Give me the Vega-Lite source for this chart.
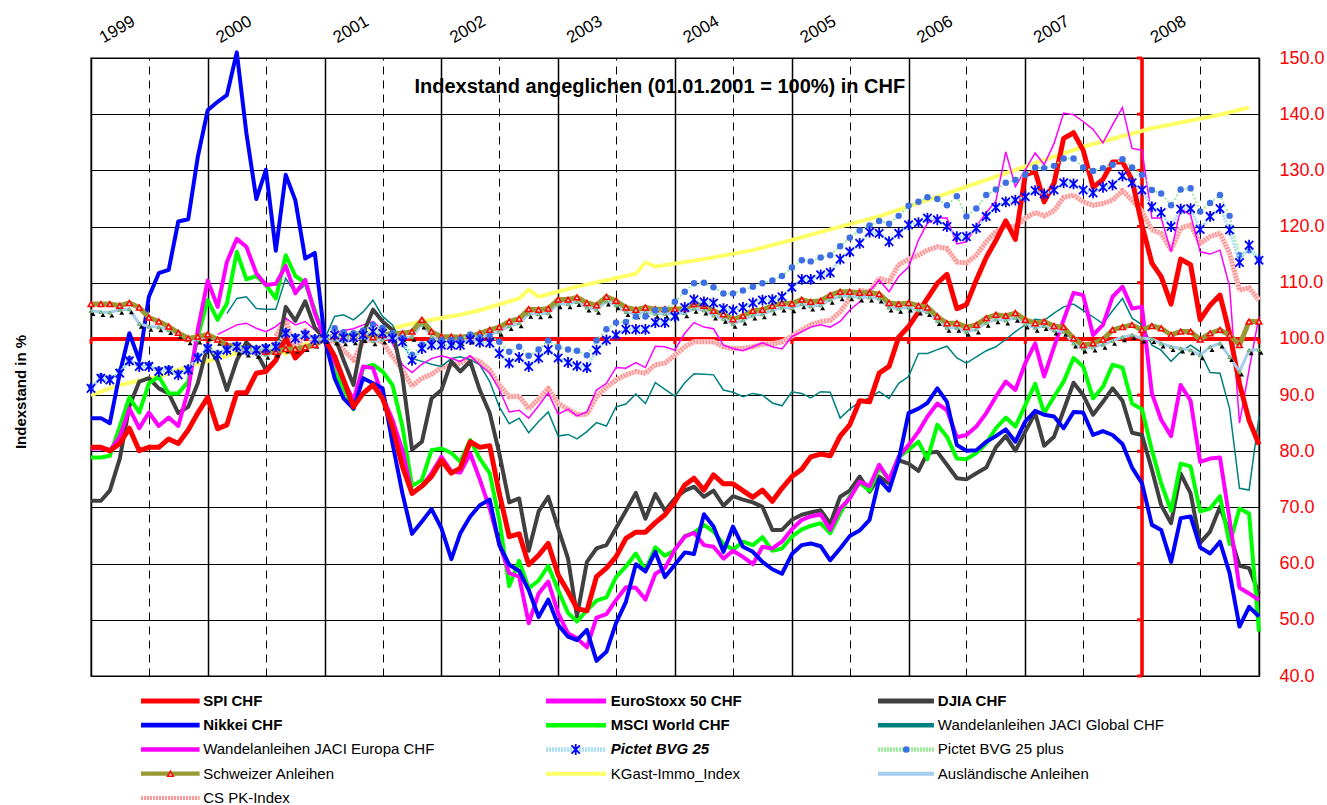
{
"$schema": "https://vega.github.io/schema/vega-lite/v6.json",
"background": "#ffffff",
"padding": {"left": 13, "top": 10, "right": 4, "bottom": 0},
"spacing": 0,
"datasets": {
"m": [
{"d":"1999-01-01","spi":80.7,"nik":85.9,"dj":71.2,"ms":78.9,"es":80.5,"b25":91.2,"bp":91.5,"ch":106.2,"au":105.0},
{"d":"1999-02-01","spi":80.7,"nik":85.9,"dj":71.2,"ms":78.9,"es":80.5,"b25":93.0,"bp":93.3,"ch":106.2,"au":104.8},
{"d":"1999-03-01","spi":80.1,"nik":85.0,"dj":73.0,"ms":79.2,"es":80.1,"b25":92.7,"bp":93.0,"ch":106.2,"au":104.7},
{"d":"1999-04-01","spi":81.4,"nik":93.9,"dj":78.7,"ms":84.4,"es":82.6,"b25":93.9,"bp":94.2,"ch":105.9,"au":105.2},
{"d":"1999-05-01","spi":84.1,"nik":101.0,"dj":88.0,"ms":89.6,"es":87.6,"b25":96.1,"bp":96.4,"ch":106.4,"au":105.3},
{"d":"1999-06-01","spi":80.1,"nik":96.2,"dj":92.4,"ms":86.9,"es":84.1,"b25":95.1,"bp":95.4,"ch":105.6,"au":102.7},
{"d":"1999-07-01","spi":80.7,"nik":107.5,"dj":93.0,"ms":92.1,"es":86.9,"b25":95.1,"bp":95.4,"ch":103.8,"au":102.2},
{"d":"1999-08-01","spi":80.7,"nik":111.7,"dj":91.2,"ms":93.3,"es":84.5,"b25":94.2,"bp":94.5,"ch":103.1,"au":102.1},
{"d":"1999-09-01","spi":82.2,"nik":112.3,"dj":90.3,"ms":90.3,"es":86.0,"b25":94.4,"bp":94.7,"ch":102.2,"au":101.6},
{"d":"1999-10-01","spi":81.4,"nik":120.9,"dj":86.8,"ms":90.3,"es":84.5,"b25":93.6,"bp":93.9,"ch":101.1,"au":100.9},
{"d":"1999-11-01","spi":83.8,"nik":121.3,"dj":87.9,"ms":92.4,"es":90.9,"b25":94.5,"bp":94.8,"ch":100.1,"au":99.8},
{"d":"1999-12-01","spi":86.8,"nik":132.4,"dj":92.1,"ms":100.4,"es":101.6,"b25":96.6,"bp":96.9,"ch":100.4,"au":99.9},
{"d":"2000-01-01","spi":89.6,"nik":140.7,"dj":98.9,"ms":106.9,"es":110.4,"b25":98.3,"bp":98.6,"ch":100.8,"au":100.5},
{"d":"2000-02-01","spi":84.0,"nik":142.2,"dj":96.0,"ms":103.4,"es":105.7,"je":100.8,"b25":97.1,"bp":97.4,"ch":99.9,"au":99.7},
{"d":"2000-03-01","spi":84.7,"nik":143.4,"dj":90.9,"ms":106.3,"es":113.7,"jg":104.5,"je":101.6,"b25":98.0,"bp":98.3,"ch":98.9,"au":98.6},
{"d":"2000-04-01","spi":90.4,"nik":151.0,"dj":96.2,"ms":115.5,"es":117.8,"jg":107.2,"je":102.5,"b25":98.6,"bp":98.9,"ch":98.6,"au":98.0},
{"d":"2000-05-01","spi":90.4,"nik":136.6,"dj":99.4,"ms":110.6,"es":116.4,"jg":107.5,"je":102.8,"b25":98.0,"bp":98.3,"ch":98.3,"au":97.6},
{"d":"2000-06-01","spi":93.9,"nik":124.9,"dj":97.6,"ms":111.2,"es":111.7,"jg":105.4,"je":101.9,"b25":98.0,"bp":98.3,"ch":98.0,"au":97.4},
{"d":"2000-07-01","spi":94.2,"nik":130.1,"dj":94.5,"ms":109.6,"es":109.6,"jg":105.3,"je":101.3,"b25":98.3,"bp":98.6,"ch":97.7,"au":97.2},
{"d":"2000-08-01","spi":96.2,"nik":115.7,"dj":96.2,"ms":107.2,"es":109.8,"jg":105.3,"je":102.2,"b25":98.6,"bp":98.9,"ch":97.7,"au":97.6,"cs":100.5},
{"d":"2000-09-01","spi":100.2,"nik":129.2,"dj":105.7,"ms":114.9,"es":113.0,"jg":110.8,"je":103.7,"b25":101.0,"bp":101.3,"ch":98.2,"au":98.3,"cs":103.5},
{"d":"2000-10-01","spi":96.6,"nik":124.7,"dj":103.2,"ms":111.2,"es":108.1,"jg":108.1,"je":102.5,"b25":100.1,"bp":100.4,"ch":98.2,"au":98.3,"cs":97.5},
{"d":"2000-11-01","spi":98.4,"nik":114.3,"dj":106.7,"ms":110.0,"es":110.5,"jg":109.6,"je":103.1,"b25":100.7,"bp":101.0,"ch":98.5,"au":98.6,"cs":101.5},
{"d":"2000-12-01","spi":99.2,"nik":115.3,"dj":102.0,"ms":105.1,"es":104.6,"jg":104.5,"je":101.6,"b25":99.9,"bp":100.2,"ch":98.9,"au":99.2,"cs":99.0},
{"d":"2001-01-01","spi":100,"nik":100,"dj":100,"ms":100,"es":100,"jg":100,"je":100,"b25":100,"bp":100,"ch":100,"au":100,"cs":100},
{"d":"2001-02-01","spi":96.9,"nik":93.0,"dj":100.4,"ms":94.2,"es":96.0,"jg":104.0,"je":101.0,"b25":100.7,"bp":101.9,"ch":100.5,"au":99.8,"cs":99.5},
{"d":"2001-03-01","spi":92.7,"nik":89.4,"dj":96.2,"ms":91.2,"es":92.5,"jg":104.3,"je":101.5,"b25":100.2,"bp":101.2,"ch":100.5,"au":99.6,"cs":98.0},
{"d":"2001-04-01","spi":87.9,"nik":87.6,"dj":91.8,"ms":87.5,"es":89.1,"jg":103.4,"je":101.8,"b25":100.2,"bp":101.0,"ch":100.5,"au":99.8,"cs":96.2},
{"d":"2001-05-01","spi":90.3,"nik":93.0,"dj":100.9,"ms":94.8,"es":95.1,"jg":104.8,"je":102.5,"b25":100.7,"bp":101.5,"ch":101.0,"au":100.2,"cs":99.5},
{"d":"2001-06-01","spi":91.8,"nik":92.1,"dj":105.2,"ms":95.4,"es":94.8,"jg":106.9,"je":103.1,"b25":101.3,"bp":102.5,"ch":100.3,"au":99.6,"cs":100.0},
{"d":"2001-07-01","spi":89.4,"nik":91.2,"dj":103.1,"ms":94.2,"es":89.7,"jg":104.0,"je":101.6,"b25":101.0,"bp":102.0,"ch":100.7,"au":99.9,"cs":99.5},
{"d":"2001-08-01","spi":84.4,"nik":81.4,"dj":101.6,"ms":91.8,"es":85.6,"jg":102.5,"je":99.2,"b25":100.1,"bp":101.0,"ch":101.0,"au":100.4,"cs":96.9},
{"d":"2001-09-01","spi":77.3,"nik":72.5,"dj":93.3,"ms":84.4,"es":80.2,"jg":99.0,"je":95.4,"b25":99.5,"bp":100.2,"ch":101.0,"au":100.2,"cs":94.5},
{"d":"2001-10-01","spi":72.5,"nik":65.3,"dj":80.3,"ms":73.8,"es":72.5,"jg":96.5,"je":94.0,"b25":96.2,"bp":97.2,"ch":101.3,"au":100.4,"cs":91.6},
{"d":"2001-11-01","spi":73.8,"nik":67.5,"dj":81.7,"ms":74.9,"es":73.8,"jg":96.0,"je":95.5,"b25":98.3,"bp":99.0,"ch":103.4,"au":102.6,"cs":93.0},
{"d":"2001-12-01","spi":75.5,"nik":69.7,"dj":89.4,"ms":80.2,"es":76.1,"jg":95.5,"je":96.5,"b25":98.9,"bp":99.6,"ch":101.3,"au":100.4,"cs":93.7},
{"d":"2002-01-01","spi":78.4,"nik":66.3,"dj":90.9,"ms":80.5,"es":79.0,"jg":95.1,"je":97.0,"b25":98.9,"bp":99.8,"ch":100.4,"au":99.6,"cs":94.9},
{"d":"2002-02-01","spi":76.1,"nik":60.8,"dj":96.0,"ms":79.7,"es":76.4,"jg":96.5,"je":96.5,"b25":98.9,"bp":99.8,"ch":100.4,"au":99.8,"cs":95.3},
{"d":"2002-03-01","spi":77.0,"nik":65.4,"dj":94.2,"ms":78.1,"es":76.2,"jg":96.8,"je":96.0,"b25":98.9,"bp":99.9,"ch":100.3,"au":99.6,"cs":95.7},
{"d":"2002-04-01","spi":81.7,"nik":68.4,"dj":96.0,"ms":82.0,"es":79.6,"jg":96.3,"je":97.0,"b25":99.9,"bp":100.8,"ch":100.5,"au":99.9,"cs":96.6},
{"d":"2002-05-01","spi":80.7,"nik":70.4,"dj":90.9,"ms":78.7,"es":75.0,"jg":95.4,"je":95.4,"b25":99.4,"bp":100.3,"ch":101.0,"au":100.3,"cs":96.0},
{"d":"2002-06-01","spi":81.0,"nik":71.4,"dj":86.8,"ms":76.1,"es":69.8,"jg":92.4,"je":93.9,"b25":99.3,"bp":100.5,"ch":101.6,"au":100.8,"cs":94.5},
{"d":"2002-07-01","spi":72.5,"nik":63.3,"dj":79.6,"ms":67.8,"es":63.6,"jg":87.9,"je":91.0,"b25":97.4,"bp":99.5,"ch":102.1,"au":101.3,"cs":91.8},
{"d":"2002-08-01","spi":64.8,"nik":59.8,"dj":70.9,"ms":56.0,"es":58.3,"jg":84.9,"je":87.0,"b25":95.7,"bp":97.7,"ch":103.1,"au":102.3,"cs":89.7},
{"d":"2002-09-01","spi":65.3,"nik":58.7,"dj":71.6,"ms":60.5,"es":57.7,"jg":85.9,"je":87.3,"b25":96.7,"bp":98.6,"ch":103.6,"au":102.8,"cs":89.8},
{"d":"2002-10-01","spi":59.8,"nik":55.3,"dj":62.3,"ms":55.6,"es":49.4,"jg":83.3,"je":85.9,"b25":95.1,"bp":97.0,"ch":105.3,"au":104.5,"cs":87.6},
{"d":"2002-11-01","spi":61.5,"nik":50.5,"dj":69.3,"ms":57.0,"es":54.7,"jg":85.3,"je":88.1,"b25":96.6,"bp":98.1,"ch":105.2,"au":104.4,"cs":89.3},
{"d":"2002-12-01","spi":63.6,"nik":53.6,"dj":71.9,"ms":59.6,"es":56.8,"jg":87.0,"je":90.4,"b25":98.1,"bp":99.7,"ch":105.4,"au":104.6,"cs":91.2},
{"d":"2003-01-01","spi":58.0,"nik":49.1,"dj":66.3,"ms":55.3,"es":51.2,"jg":82.7,"je":86.6,"b25":96.6,"bp":98.5,"ch":107.0,"au":106.2,"cs":88.5},
{"d":"2003-02-01","spi":55.0,"nik":47.0,"dj":60.9,"ms":51.2,"es":47.6,"jg":83.0,"je":87.5,"b25":95.8,"bp":98.1,"ch":107.0,"au":106.2,"cs":87.5},
{"d":"2003-03-01","spi":52.0,"nik":46.4,"dj":50.6,"ms":49.7,"es":46.7,"jg":82.2,"je":86.3,"b25":95.2,"bp":97.9,"ch":107.4,"au":106.6,"cs":86.5},
{"d":"2003-04-01","spi":51.6,"nik":48.2,"dj":60.3,"ms":51.7,"es":45.1,"jg":83.5,"je":87.0,"b25":94.9,"bp":97.1,"ch":106.4,"au":105.6,"cs":86.6},
{"d":"2003-05-01","spi":57.7,"nik":42.7,"dj":62.7,"ms":53.4,"es":50.4,"jg":85.1,"je":90.9,"b25":98.0,"bp":99.7,"ch":106.0,"au":105.2,"cs":89.7},
{"d":"2003-06-01","spi":59.2,"nik":44.3,"dj":63.3,"ms":54.0,"es":51.0,"jg":84.5,"je":92.1,"b25":99.8,"bp":101.7,"ch":107.5,"au":106.7,"cs":91.4},
{"d":"2003-07-01","spi":61.2,"nik":49.4,"dj":66.3,"ms":57.6,"es":53.5,"jg":87.9,"je":94.9,"b25":100.7,"bp":102.9,"ch":106.8,"au":106.0,"cs":92.7},
{"d":"2003-08-01","spi":64.5,"nik":53.2,"dj":69.4,"ms":59.5,"es":55.8,"jg":88.4,"je":94.8,"b25":101.7,"bp":103.0,"ch":105.6,"au":104.8,"cs":93.6},
{"d":"2003-09-01","spi":65.6,"nik":59.9,"dj":72.6,"ms":61.8,"es":55.7,"jg":90.2,"je":95.8,"b25":101.7,"bp":104.0,"ch":105.2,"au":104.4,"cs":94.2},
{"d":"2003-10-01","spi":65.6,"nik":58.6,"dj":68.0,"ms":58.8,"es":53.6,"jg":88.5,"je":94.9,"b25":101.7,"bp":104.0,"ch":105.6,"au":104.8,"cs":93.9},
{"d":"2003-11-01","spi":67.3,"nik":62.1,"dj":72.4,"ms":62.9,"es":58.2,"jg":92.2,"je":98.7,"b25":102.9,"bp":105.1,"ch":105.3,"au":104.5,"cs":95.4},
{"d":"2003-12-01","spi":68.7,"nik":57.6,"dj":69.4,"ms":61.4,"es":59.2,"jg":91.0,"je":98.6,"b25":102.9,"bp":105.2,"ch":105.3,"au":104.5,"cs":95.7},
{"d":"2004-01-01","spi":71.0,"nik":59.8,"dj":71.6,"ms":62.4,"es":62.5,"jg":89.8,"je":98.0,"b25":104.0,"bp":106.6,"ch":105.3,"au":104.5,"cs":97.1},
{"d":"2004-02-01","spi":74.0,"nik":62.0,"dj":73.0,"ms":64.9,"es":64.8,"jg":92.2,"je":101.0,"b25":105.6,"bp":108.4,"ch":105.4,"au":104.6,"cs":98.6},
{"d":"2004-03-01","spi":75.2,"nik":61.7,"dj":73.7,"ms":65.5,"es":65.5,"jg":93.8,"je":102.9,"b25":107.0,"bp":109.9,"ch":106.2,"au":105.4,"cs":99.5},
{"d":"2004-04-01","spi":73.1,"nik":68.8,"dj":71.9,"ms":66.9,"es":63.3,"jg":93.7,"je":102.1,"b25":106.6,"bp":110.0,"ch":105.9,"au":105.1,"cs":99.5},
{"d":"2004-05-01","spi":75.8,"nik":66.6,"dj":73.0,"ms":65.7,"es":63.0,"jg":93.6,"je":101.8,"b25":106.4,"bp":109.2,"ch":105.0,"au":104.2,"cs":99.5},
{"d":"2004-06-01","spi":74.2,"nik":62.1,"dj":70.3,"ms":63.5,"es":60.9,"jg":90.9,"je":98.9,"b25":105.4,"bp":108.1,"ch":104.4,"au":103.6,"cs":98.6},
{"d":"2004-07-01","spi":74.2,"nik":66.6,"dj":72.0,"ms":62.5,"es":62.3,"jg":90.5,"je":98.3,"b25":105.1,"bp":108.1,"ch":103.5,"au":102.7,"cs":98.3},
{"d":"2004-08-01","spi":73.0,"nik":63.0,"dj":71.4,"ms":63.9,"es":61.2,"jg":89.7,"je":97.9,"b25":105.6,"bp":108.6,"ch":104.1,"au":103.3,"cs":98.3},
{"d":"2004-09-01","spi":71.8,"nik":62.1,"dj":70.9,"ms":63.3,"es":59.9,"jg":90.3,"je":98.6,"b25":106.4,"bp":109.3,"ch":105.0,"au":104.2,"cs":98.6},
{"d":"2004-10-01","spi":73.1,"nik":60.3,"dj":70.1,"ms":64.7,"es":63.0,"jg":90.0,"je":99.3,"b25":106.9,"bp":109.9,"ch":105.2,"au":104.4,"cs":99.1},
{"d":"2004-11-01","spi":71.1,"nik":59.0,"dj":66.0,"ms":62.3,"es":62.7,"jg":88.6,"je":98.6,"b25":107.0,"bp":110.4,"ch":105.9,"au":105.1,"cs":99.1},
{"d":"2004-12-01","spi":73.4,"nik":58.2,"dj":66.0,"ms":62.7,"es":63.9,"jg":88.1,"je":98.2,"b25":107.5,"bp":111.2,"ch":106.4,"au":105.6,"cs":99.5},
{"d":"2005-01-01","spi":75.5,"nik":61.7,"dj":67.8,"ms":64.8,"es":66.1,"jg":90.6,"je":100.4,"b25":109.2,"bp":112.7,"ch":106.3,"au":105.5,"cs":100.5},
{"d":"2005-02-01","spi":76.8,"nik":63.3,"dj":68.7,"ms":66.1,"es":67.8,"jg":90.3,"je":101.3,"b25":110.6,"bp":114.0,"ch":107.0,"au":106.2,"cs":101.6},
{"d":"2005-03-01","spi":79.0,"nik":63.6,"dj":69.1,"ms":66.7,"es":68.4,"jg":89.5,"je":102.1,"b25":110.6,"bp":113.8,"ch":106.6,"au":105.8,"cs":102.5},
{"d":"2005-04-01","spi":79.5,"nik":63.1,"dj":69.5,"ms":67.2,"es":68.8,"jg":90.6,"je":102.5,"b25":111.4,"bp":114.5,"ch":106.8,"au":106.0,"cs":103.1},
{"d":"2005-05-01","spi":79.2,"nik":60.6,"dj":67.1,"ms":65.4,"es":66.0,"jg":90.5,"je":102.1,"b25":111.8,"bp":114.9,"ch":107.8,"au":107.0,"cs":103.3},
{"d":"2005-06-01","spi":82.7,"nik":62.7,"dj":71.9,"ms":68.9,"es":69.8,"jg":85.9,"je":103.1,"b25":114.2,"bp":116.5,"ch":108.4,"au":107.6,"cs":104.8},
{"d":"2005-07-01","spi":84.7,"nik":64.9,"dj":73.0,"ms":72.0,"es":71.6,"jg":87.5,"je":105.1,"b25":115.5,"bp":118.0,"ch":108.4,"au":107.6,"cs":107.2},
{"d":"2005-08-01","spi":89.0,"nik":65.9,"dj":75.5,"ms":74.4,"es":74.6,"jg":88.8,"je":106.6,"b25":117.0,"bp":119.3,"ch":108.2,"au":107.4,"cs":108.6},
{"d":"2005-09-01","spi":88.8,"nik":67.8,"dj":72.8,"ms":73.0,"es":73.8,"jg":89.5,"je":108.5,"b25":119.0,"bp":120.2,"ch":108.2,"au":107.4,"cs":108.4},
{"d":"2005-10-01","spi":93.9,"nik":75.0,"dj":75.5,"ms":77.1,"es":77.6,"jg":90.6,"je":110.5,"b25":118.8,"bp":121.0,"ch":108.0,"au":107.2,"cs":110.8},
{"d":"2005-11-01","spi":95.1,"nik":73.0,"dj":74.3,"ms":75.0,"es":74.9,"jg":89.4,"je":108.4,"b25":117.3,"bp":120.5,"ch":106.4,"au":105.6,"cs":110.2},
{"d":"2005-12-01","spi":100.3,"nik":78.4,"dj":78.4,"ms":78.9,"es":79.0,"jg":92.1,"je":111.1,"b25":118.8,"bp":121.9,"ch":106.2,"au":105.4,"cs":113.2},
{"d":"2006-01-01","spi":102.2,"nik":86.8,"dj":77.8,"ms":80.3,"es":81.1,"jg":93.3,"je":112.8,"b25":120.3,"bp":123.7,"ch":106.4,"au":105.6,"cs":114.2},
{"d":"2006-02-01","spi":104.8,"nik":87.6,"dj":76.5,"ms":81.7,"es":83.5,"jg":97.4,"je":117.6,"b25":120.7,"bp":124.4,"ch":105.9,"au":105.1,"cs":114.9},
{"d":"2006-03-01","spi":107.2,"nik":88.6,"dj":79.7,"ms":78.6,"es":86.2,"jg":97.4,"je":120.6,"b25":121.5,"bp":125.2,"ch":105.6,"au":104.8,"cs":115.8},
{"d":"2006-04-01","spi":109.9,"nik":91.2,"dj":79.9,"ms":84.7,"es":88.5,"jg":98.1,"je":121.5,"b25":121.2,"bp":124.9,"ch":104.0,"au":103.2,"cs":116.4},
{"d":"2006-05-01","spi":111.5,"nik":88.8,"dj":77.6,"ms":82.6,"es":87.3,"jg":98.7,"je":121.5,"b25":120.0,"bp":123.8,"ch":102.8,"au":102.0,"cs":116.1},
{"d":"2006-06-01","spi":105.4,"nik":81.1,"dj":75.2,"ms":78.7,"es":82.5,"jg":96.6,"je":116.9,"b25":118.2,"bp":125.4,"ch":102.8,"au":102.0,"cs":113.7},
{"d":"2006-07-01","spi":106.1,"nik":80.1,"dj":75.0,"ms":78.6,"es":82.9,"jg":95.7,"je":117.3,"b25":118.2,"bp":121.8,"ch":102.1,"au":101.3,"cs":113.5},
{"d":"2006-08-01","spi":110.5,"nik":80.2,"dj":76.1,"ms":79.7,"es":84.4,"jg":96.8,"je":120.0,"b25":119.7,"bp":123.2,"ch":102.5,"au":101.7,"cs":114.9},
{"d":"2006-09-01","spi":114.5,"nik":81.7,"dj":77.1,"ms":81.4,"es":86.8,"jg":97.9,"je":122.5,"b25":121.8,"bp":125.6,"ch":103.7,"au":102.9,"cs":117.3},
{"d":"2006-10-01","spi":117.5,"nik":82.7,"dj":80.7,"ms":84.1,"es":89.7,"jg":98.6,"je":124.5,"b25":123.4,"bp":126.6,"ch":104.3,"au":103.5,"cs":119.1},
{"d":"2006-11-01","spi":121.0,"nik":83.9,"dj":82.7,"ms":86.0,"es":92.4,"jg":99.9,"je":133.3,"b25":124.4,"bp":127.8,"ch":104.1,"au":103.3,"cs":120.1},
{"d":"2006-12-01","spi":117.7,"nik":81.7,"dj":80.1,"ms":84.4,"es":90.9,"jg":101.3,"je":127.1,"b25":124.7,"bp":128.3,"ch":104.6,"au":103.8,"cs":119.9},
{"d":"2007-01-01","spi":129.2,"nik":85.3,"dj":83.5,"ms":88.2,"es":95.7,"jg":102.5,"je":130.1,"b25":125.3,"bp":129.2,"ch":103.4,"au":102.6,"cs":121.5},
{"d":"2007-02-01","spi":129.8,"nik":87.2,"dj":86.8,"ms":92.0,"es":99.2,"jg":103.5,"je":133.1,"b25":126.4,"bp":130.5,"ch":102.8,"au":102.0,"cs":122.5},
{"d":"2007-03-01","spi":124.4,"nik":86.5,"dj":81.0,"ms":86.8,"es":93.3,"jg":103.3,"je":131.0,"b25":125.8,"bp":130.4,"ch":103.1,"au":102.3,"cs":121.9},
{"d":"2007-04-01","spi":127.7,"nik":86.2,"dj":82.6,"ms":89.7,"es":98.6,"jg":104.6,"je":134.8,"b25":126.5,"bp":130.8,"ch":102.3,"au":101.5,"cs":122.8},
{"d":"2007-05-01","spi":135.7,"nik":84.1,"dj":87.3,"ms":92.4,"es":103.4,"jg":105.7,"je":140.2,"b25":127.8,"bp":132.1,"ch":102.1,"au":101.3,"cs":125.2},
{"d":"2007-06-01","spi":136.7,"nik":87.0,"dj":92.2,"ms":96.6,"es":108.2,"jg":106.2,"je":139.9,"b25":127.6,"bp":132.1,"ch":100.1,"au":99.2,"cs":125.6},
{"d":"2007-07-01","spi":133.6,"nik":86.9,"dj":90.0,"ms":95.1,"es":107.8,"jg":105.1,"je":138.7,"b25":126.5,"bp":130.5,"ch":98.9,"au":98.3,"cs":124.4},
{"d":"2007-08-01","spi":127.0,"nik":82.9,"dj":86.5,"ms":89.4,"es":100.7,"jg":103.9,"je":137.3,"b25":126.0,"bp":129.9,"ch":99.2,"au":98.5,"cs":123.8},
{"d":"2007-09-01","spi":128.4,"nik":83.6,"dj":88.8,"ms":91.5,"es":102.5,"jg":102.7,"je":134.9,"b25":127.0,"bp":130.4,"ch":99.9,"au":99.0,"cs":124.1},
{"d":"2007-10-01","spi":131.5,"nik":82.9,"dj":91.2,"ms":95.4,"es":107.5,"jg":105.0,"je":138.1,"b25":127.4,"bp":131.0,"ch":101.6,"au":99.7,"cs":124.7},
{"d":"2007-11-01","spi":131.5,"nik":81.3,"dj":89.0,"ms":94.9,"es":109.3,"jg":107.2,"je":141.2,"b25":129.0,"bp":132.0,"ch":102.1,"au":100.3,"cs":126.4},
{"d":"2007-12-01","spi":128.3,"nik":77.1,"dj":83.3,"ms":88.5,"es":105.4,"jg":103.7,"je":133.9,"b25":127.8,"bp":130.5,"ch":102.5,"au":100.7,"cs":124.7},
{"d":"2008-01-01","spi":120.3,"nik":74.3,"dj":82.9,"ms":87.5,"es":105.7,"jg":102.5,"je":133.6,"b25":126.5,"bp":129.2,"ch":101.6,"au":100.1,"cs":122.7},
{"d":"2008-02-01","spi":113.5,"nik":66.9,"dj":76.7,"ms":80.2,"es":90.3,"jg":98.9,"je":121.5,"b25":123.5,"bp":126.5,"ch":102.3,"au":100.0,"cs":119.4},
{"d":"2008-03-01","spi":111.1,"nik":66.0,"dj":70.4,"ms":74.3,"es":85.6,"jg":98.0,"je":121.5,"b25":122.5,"bp":125.9,"ch":101.9,"au":99.2,"cs":118.8},
{"d":"2008-04-01","spi":106.2,"nik":60.3,"dj":67.2,"ms":69.4,"es":82.7,"jg":96.0,"je":115.5,"b25":120.0,"bp":123.8,"ch":100.7,"au":98.6,"cs":115.8},
{"d":"2008-05-01","spi":114.2,"nik":68.1,"dj":76.0,"ms":77.8,"es":91.8,"jg":97.7,"je":123.2,"b25":123.1,"bp":126.6,"ch":101.3,"au":98.3,"cs":119.7},
{"d":"2008-06-01","spi":113.2,"nik":68.4,"dj":72.5,"ms":77.3,"es":89.0,"jg":98.9,"je":122.1,"b25":123.2,"bp":126.8,"ch":101.3,"au":98.0,"cs":120.3},
{"d":"2008-07-01","spi":103.4,"nik":62.9,"dj":63.7,"ms":69.3,"es":78.1,"jg":97.7,"je":115.5,"b25":119.5,"bp":122.7,"ch":99.9,"au":97.1,"cs":117.0},
{"d":"2008-08-01","spi":106.0,"nik":61.8,"dj":65.7,"ms":69.8,"es":78.7,"jg":94.0,"je":115.1,"b25":121.8,"bp":124.2,"ch":101.0,"au":98.6,"cs":118.2},
{"d":"2008-09-01","spi":107.8,"nik":63.9,"dj":70.1,"ms":72.0,"es":78.9,"jg":93.9,"je":115.8,"b25":123.2,"bp":125.6,"ch":101.6,"au":99.2,"cs":118.8},
{"d":"2008-10-01","spi":101.0,"nik":58.3,"dj":65.4,"ms":63.5,"es":67.8,"jg":87.6,"je":109.3,"b25":119.4,"bp":121.9,"ch":100.7,"au":96.8,"cs":115.2},
{"d":"2008-11-01","spi":92.0,"nik":48.8,"dj":59.6,"ms":69.8,"es":55.7,"jg":73.4,"je":85.0,"b25":113.6,"bp":114.9,"ch":98.9,"au":94.2,"cs":108.7},
{"d":"2008-12-01","spi":85.5,"nik":52.3,"dj":59.2,"ms":68.9,"es":54.7,"jg":73.1,"je":94.5,"b25":116.7,"bp":115.8,"ch":103.1,"au":98.0,"cs":109.1},
{"d":"2009-01-01","spi":81.2,"nik":50.6,"dj":54.7,"ms":47.9,"es":53.5,"jg":86.2,"je":104.0,"b25":114.0,"bp":114.2,"ch":103.1,"au":98.1,"cs":106.9}
],
"kg": [
{"d":"1999-01-01","v":90.0},{"d":"1999-04-01","v":91.8},{"d":"1999-08-01","v":93.3},{"d":"1999-11-01","v":95.1},
{"d":"2000-03-01","v":97.0},{"d":"2000-06-01","v":98.3},{"d":"2000-08-01","v":99.0},{"d":"2000-09-01","v":97.3},
{"d":"2000-10-01","v":98.6},{"d":"2001-01-01","v":99.8},{"d":"2001-04-01","v":101.0},{"d":"2001-08-01","v":101.9},
{"d":"2001-11-01","v":103.1},{"d":"2002-03-01","v":104.3},{"d":"2002-05-01","v":105.1},{"d":"2002-09-01","v":107.2},
{"d":"2002-10-01","v":108.8},{"d":"2002-11-01","v":107.5},{"d":"2003-03-01","v":109.3},{"d":"2003-09-01","v":111.6},
{"d":"2003-10-01","v":113.6},{"d":"2003-11-01","v":112.9},{"d":"2004-04-01","v":114.2},{"d":"2004-09-01","v":115.8},
{"d":"2005-01-01","v":117.6},{"d":"2005-05-01","v":119.5},{"d":"2005-10-01","v":121.8},{"d":"2006-05-01","v":125.9},
{"d":"2006-12-01","v":130.1},{"d":"2007-07-01","v":134.2},{"d":"2008-02-01","v":137.5},{"d":"2008-09-01","v":139.9},
{"d":"2008-12-01","v":141.2}
],
"ty": [{"v":40},{"v":50},{"v":60},{"v":70},{"v":80},{"v":90},{"v":100},{"v":110},{"v":120},{"v":130},{"v":140},{"v":150}],
"tx": [{"d":"1999-01-01"},{"d":"2000-01-01"},{"d":"2001-01-01"},{"d":"2002-01-01"},{"d":"2003-01-01"},{"d":"2004-01-01"},{"d":"2005-01-01"},{"d":"2006-01-01"},{"d":"2007-01-01"},{"d":"2008-01-01"},{"d":"2009-01-01"}],
"tt": [{"t":"Indexstand angeglichen (01.01.2001 = 100%) in CHF"}],
"lg": [
{"lab":"SPI CHF","k":"spi","w":"b","r":0,"x0":4.28,"x1":9.3,"xm":6.8,"xt":9.6},
{"lab":"EuroStoxx 50 CHF","k":"es","w":"b","r":0,"x0":38.96,"x1":44.09,"xm":41.5,"xt":44.5},
{"lab":"DJIA CHF","k":"dj","w":"b","r":0,"x0":67.38,"x1":72.17,"xm":69.8,"xt":72.5},
{"lab":"Nikkei CHF","k":"nik","w":"b","r":1,"x0":4.28,"x1":9.3,"xm":6.8,"xt":9.6},
{"lab":"MSCI World CHF","k":"ms","w":"b","r":1,"x0":38.96,"x1":44.09,"xm":41.5,"xt":44.5},
{"lab":"Wandelanleihen JACI Global CHF","k":"jg","w":"n","r":1,"x0":67.38,"x1":72.17,"xm":69.8,"xt":72.5},
{"lab":"Wandelanleihen JACI  Europa CHF","k":"je","w":"n","r":2,"x0":4.28,"x1":9.3,"xm":6.8,"xt":9.6},
{"lab":"Pictet BVG 25","k":"b25","w":"bi","r":2,"x0":38.96,"x1":44.09,"xm":41.5,"xt":44.5},
{"lab":"Pictet BVG 25 plus","k":"bp","w":"n","r":2,"x0":67.38,"x1":72.17,"xm":69.8,"xt":72.5},
{"lab":"Schweizer Anleihen","k":"ch","w":"n","r":3,"x0":4.28,"x1":9.3,"xm":6.8,"xt":9.6},
{"lab":"KGast-Immo_Index","k":"kg","w":"n","r":3,"x0":38.96,"x1":44.09,"xm":41.5,"xt":44.5},
{"lab":"Ausländische Anleihen","k":"au","w":"n","r":3,"x0":67.38,"x1":72.17,"xm":69.8,"xt":72.5},
{"lab":"CS PK-Index","k":"cs","w":"n","r":4,"x0":4.28,"x1":9.3,"xm":6.8,"xt":9.6}
]
},
"vconcat": [
{
"width": 1168,
"height": 618,
"view": {"stroke": "#808080", "strokeWidth": 2},
"title": {"text": "Indexstand in %", "orient": "left", "anchor": "middle", "font": "Liberation Sans", "fontSize": 15, "fontWeight": "bold", "color": "#000000", "offset": 54, "dx": -25},
"data": {"name": "m"},
"layer": [
{"data": {"name": "tt"}, "mark": {"type": "rule", "color": "#FF0000", "strokeWidth": 4},
 "encoding": {"y": {"datum": 100, "type": "quantitative",
   "scale": {"domain": [40, 150], "nice": false, "zero": false},
   "axis": {"orient": "right", "values": [40,50,60,70,80,90,100,110,120,130,140,150], "format": ".1f", "grid": true, "gridColor": "#000000", "gridWidth": 1, "ticks": false, "domain": false, "labelColor": "#FF0000", "labelFontSize": 18, "labelFont": "Liberation Sans", "labelPadding": 20, "labelBaseline": "middle", "title": null}}}},
{"data": {"name": "tt"}, "mark": {"type": "rule", "color": "#FF0000", "strokeWidth": 3.5},
 "encoding": {"x": {"datum": {"year": 2008, "month": 1, "date": 1, "utc": true}, "type": "temporal",
   "scale": {"type": "utc", "domain": [{"year": 1999, "month": 1, "date": 1, "utc": true}, {"year": 2009, "month": 1, "date": 1, "utc": true}]},
   "axis": {"orient": "top", "title": null,
     "values": [{"year":1999,"month":1,"date":1,"utc":true},{"year":1999,"month":7,"date":1,"utc":true},{"year":2000,"month":1,"date":1,"utc":true},{"year":2000,"month":7,"date":1,"utc":true},{"year":2001,"month":1,"date":1,"utc":true},{"year":2001,"month":7,"date":1,"utc":true},{"year":2002,"month":1,"date":1,"utc":true},{"year":2002,"month":7,"date":1,"utc":true},{"year":2003,"month":1,"date":1,"utc":true},{"year":2003,"month":7,"date":1,"utc":true},{"year":2004,"month":1,"date":1,"utc":true},{"year":2004,"month":7,"date":1,"utc":true},{"year":2005,"month":1,"date":1,"utc":true},{"year":2005,"month":7,"date":1,"utc":true},{"year":2006,"month":1,"date":1,"utc":true},{"year":2006,"month":7,"date":1,"utc":true},{"year":2007,"month":1,"date":1,"utc":true},{"year":2007,"month":7,"date":1,"utc":true},{"year":2008,"month":1,"date":1,"utc":true},{"year":2008,"month":7,"date":1,"utc":true},{"year":2009,"month":1,"date":1,"utc":true}],
     "labelExpr": "utcmonth(datum.value) == 0 && utcyear(datum.value) < 2009 ? utcFormat(datum.value, '%Y') : ''",
     "labelAngle": -30, "labelAlign": "left", "labelBaseline": "alphabetic", "labelPadding": 15, "labelOffset": 12,
     "labelFontSize": 17, "labelFont": "Liberation Sans", "labelColor": "#000000", "labelOverlap": false, "labelFlush": false, "labelBound": false,
     "ticks": false, "domain": false, "grid": true, "gridColor": "#000000",
     "gridWidth": {"condition": {"test": "utcmonth(datum.value) == 6", "value": 1}, "value": 1.5},
     "gridDash": {"condition": {"test": "utcmonth(datum.value) == 6", "value": [8, 6]}, "value": [1, 0]}}}}},
{"data": {"name": "ty"}, "mark": {"type": "point", "shape": "M0,0L-1,0", "size": 100, "filled": false, "stroke": "#FF0000", "strokeWidth": 3, "opacity": 1},
 "encoding": {"x": {"datum": {"year": 2008, "month": 1, "date": 1, "utc": true}, "type": "temporal"}, "y": {"field": "v", "type": "quantitative", "title": null}}},
{"data": {"name": "tx"}, "mark": {"type": "point", "shape": "M0,0L0,1", "size": 100, "filled": false, "stroke": "#FF0000", "strokeWidth": 3, "opacity": 1},
 "encoding": {"x": {"field": "d", "type": "temporal", "title": null}, "y": {"datum": 100, "type": "quantitative"}}},
{"data": {"name": "kg"}, "mark": {"type": "line", "color": "#FFFF66", "strokeWidth": 4, "strokeJoin": "round"},
 "encoding": {"x": {"field": "d", "type": "temporal", "title": null}, "y": {"field": "v", "type": "quantitative", "title": null}}},
{"mark": {"type": "line", "color": "#FFD6D6", "strokeWidth": 5, "strokeJoin": "round"},
 "encoding": {"x": {"field": "d", "type": "temporal", "title": null}, "y": {"field": "cs", "type": "quantitative", "title": null}}},
{"mark": {"type": "line", "color": "#FF9090", "strokeWidth": 5, "strokeDash": [1.5, 1.5], "strokeJoin": "round"},
 "encoding": {"x": {"field": "d", "type": "temporal", "title": null}, "y": {"field": "cs", "type": "quantitative", "title": null}}},
{"mark": {"type": "line", "color": "#008080", "strokeWidth": 1.5},
 "encoding": {"x": {"field": "d", "type": "temporal", "title": null}, "y": {"field": "jg", "type": "quantitative", "title": null}}},
{"mark": {"type": "line", "color": "#FF00FF", "strokeWidth": 1.5},
 "encoding": {"x": {"field": "d", "type": "temporal", "title": null}, "y": {"field": "je", "type": "quantitative", "title": null}}},
{"mark": {"type": "line", "color": "#404040", "strokeWidth": 4, "strokeJoin": "round"},
 "encoding": {"x": {"field": "d", "type": "temporal", "title": null}, "y": {"field": "dj", "type": "quantitative", "title": null}}},
{"mark": {"type": "line", "color": "#00FF00", "strokeWidth": 4, "strokeJoin": "round"},
 "encoding": {"x": {"field": "d", "type": "temporal", "title": null}, "y": {"field": "ms", "type": "quantitative", "title": null}}},
{"mark": {"type": "line", "color": "#FF00FF", "strokeWidth": 4, "strokeJoin": "round"},
 "encoding": {"x": {"field": "d", "type": "temporal", "title": null}, "y": {"field": "es", "type": "quantitative", "title": null}}},
{"mark": {"type": "line", "color": "#0000FF", "strokeWidth": 4, "strokeJoin": "round"},
 "encoding": {"x": {"field": "d", "type": "temporal", "title": null}, "y": {"field": "nik", "type": "quantitative", "title": null}}},
{"mark": {"type": "line", "color": "#FF0000", "strokeWidth": 5, "strokeJoin": "round"},
 "encoding": {"x": {"field": "d", "type": "temporal", "title": null}, "y": {"field": "spi", "type": "quantitative", "title": null}}},
{"mark": {"type": "line", "color": "#A6CCEE", "strokeWidth": 3},
 "encoding": {"x": {"field": "d", "type": "temporal", "title": null}, "y": {"field": "au", "type": "quantitative", "title": null}}},
{"mark": {"type": "point", "shape": "triangle-up", "size": 24, "filled": true, "color": "#000000", "opacity": 1, "xOffset": 2, "yOffset": 3},
 "encoding": {"x": {"field": "d", "type": "temporal", "title": null}, "y": {"field": "au", "type": "quantitative", "title": null}}},
{"mark": {"type": "point", "shape": "triangle-up", "size": 14, "filled": false, "stroke": "#66AA55", "strokeWidth": 1, "opacity": 1},
 "encoding": {"x": {"field": "d", "type": "temporal", "title": null}, "y": {"field": "au", "type": "quantitative", "title": null}}},
{"mark": {"type": "line", "color": "#999933", "strokeWidth": 5, "strokeJoin": "round"},
 "encoding": {"x": {"field": "d", "type": "temporal", "title": null}, "y": {"field": "ch", "type": "quantitative", "title": null}}},
{"mark": {"type": "point", "shape": "triangle-up", "size": 32, "filled": true, "fill": "#FFE0E0", "stroke": "#FF0000", "strokeWidth": 1.5, "opacity": 1},
 "encoding": {"x": {"field": "d", "type": "temporal", "title": null}, "y": {"field": "ch", "type": "quantitative", "title": null}}},
{"mark": {"type": "line", "color": "#99EE99", "strokeWidth": 2, "strokeDash": [2, 2]},
 "encoding": {"x": {"field": "d", "type": "temporal", "title": null}, "y": {"field": "bp", "type": "quantitative", "title": null}}},
{"mark": {"type": "point", "shape": "circle", "size": 42, "filled": true, "color": "#3F6FE6", "opacity": 1},
 "encoding": {"x": {"field": "d", "type": "temporal", "title": null}, "y": {"field": "bp", "type": "quantitative", "title": null}}},
{"mark": {"type": "line", "color": "#A6DDF5", "strokeWidth": 3, "strokeDash": [2, 1]},
 "encoding": {"x": {"field": "d", "type": "temporal", "title": null}, "y": {"field": "b25", "type": "quantitative", "title": null}}},
{"mark": {"type": "point", "shape": "M-1,-1L1,1M-1,1L1,-1M0,-1.3L0,1.3", "size": 70, "filled": false, "stroke": "#0000FF", "strokeWidth": 1.8, "opacity": 1},
 "encoding": {"x": {"field": "d", "type": "temporal", "title": null}, "y": {"field": "b25", "type": "quantitative", "title": null}}},
{"data": {"name": "tt"}, "mark": {"type": "text", "font": "Liberation Sans", "fontSize": 20, "fontWeight": "bold", "align": "center", "baseline": "middle", "color": "#000000"},
 "encoding": {"text": {"field": "t"}, "x": {"datum": {"year": 2003, "month": 11, "date": 15, "utc": true}, "type": "temporal"}, "y": {"datum": 144.8, "type": "quantitative"}}}
]
},
{
"width": 1168,
"height": 115,
"view": {"stroke": null},
"data": {"name": "lg"},
"encoding": {"y": {"field": "r", "type": "quantitative", "scale": {"domain": [-0.6186, 4.124], "reverse": true, "nice": false, "zero": false}, "axis": null}},
"layer": [
{"mark": {"type": "rule", "strokeCap": "butt"},
 "encoding": {
  "x": {"field": "x0", "type": "quantitative", "scale": {"domain": [0, 100], "nice": false, "zero": false}, "axis": null},
  "x2": {"field": "x1"},
  "color": {"field": "k", "type": "nominal", "legend": null, "scale": {"domain": ["spi","es","dj","nik","ms","jg","je","b25","bp","ch","kg","au","cs"], "range": ["#FF0000","#FF00FF","#404040","#0000FF","#00FF00","#008080","#FF00FF","#A6DDF5","#99EE99","#999933","#FFFF66","#A6CCEE","#FF9999"]}},
  "strokeWidth": {"field": "k", "type": "ordinal", "legend": null, "scale": {"domain": ["spi","es","dj","nik","ms","jg","je","b25","bp","ch","kg","au","cs"], "range": [5,4,4,4,4,1.5,2,5,4,5,5,3,5]}},
  "strokeDash": {"field": "k", "type": "nominal", "legend": null, "scale": {"domain": ["spi","es","dj","nik","ms","jg","je","b25","bp","ch","kg","au","cs"], "range": [[1,0],[1,0],[1,0],[1,0],[1,0],[1,0],[1,0],[2,1],[2,1],[1,0],[1,0],[1,0],[2,1]]}}}},
{"transform": [{"filter": "datum.k == 'b25'"}],
 "mark": {"type": "point", "shape": "M-1,-1L1,1M-1,1L1,-1M0,-1.3L0,1.3", "size": 70, "filled": false, "stroke": "#0000FF", "strokeWidth": 1.8, "opacity": 1},
 "encoding": {"x": {"field": "xm", "type": "quantitative"}}},
{"transform": [{"filter": "datum.k == 'bp'"}],
 "mark": {"type": "point", "shape": "circle", "size": 42, "filled": true, "color": "#3F6FE6", "opacity": 1},
 "encoding": {"x": {"field": "xm", "type": "quantitative"}}},
{"transform": [{"filter": "datum.k == 'ch'"}],
 "mark": {"type": "point", "shape": "triangle-up", "size": 32, "filled": true, "fill": "#FFE0E0", "stroke": "#FF0000", "strokeWidth": 1.5, "opacity": 1},
 "encoding": {"x": {"field": "xm", "type": "quantitative"}}},
{"transform": [{"filter": "datum.w == 'b'"}],
 "mark": {"type": "text", "align": "left", "baseline": "middle", "font": "Liberation Sans", "fontSize": 15, "fontWeight": "bold", "color": "#000000"},
 "encoding": {"x": {"field": "xt", "type": "quantitative"}, "text": {"field": "lab"}}},
{"transform": [{"filter": "datum.w == 'n'"}],
 "mark": {"type": "text", "align": "left", "baseline": "middle", "font": "Liberation Sans", "fontSize": 15, "color": "#000000"},
 "encoding": {"x": {"field": "xt", "type": "quantitative"}, "text": {"field": "lab"}}},
{"transform": [{"filter": "datum.w == 'bi'"}],
 "mark": {"type": "text", "align": "left", "baseline": "middle", "font": "Liberation Sans", "fontSize": 15, "fontWeight": "bold", "fontStyle": "italic", "color": "#000000"},
 "encoding": {"x": {"field": "xt", "type": "quantitative"}, "text": {"field": "lab"}}}
]
}
],
"config": {
"mark": {"invalid": "filter"},
"font": "Liberation Sans"
}
}
